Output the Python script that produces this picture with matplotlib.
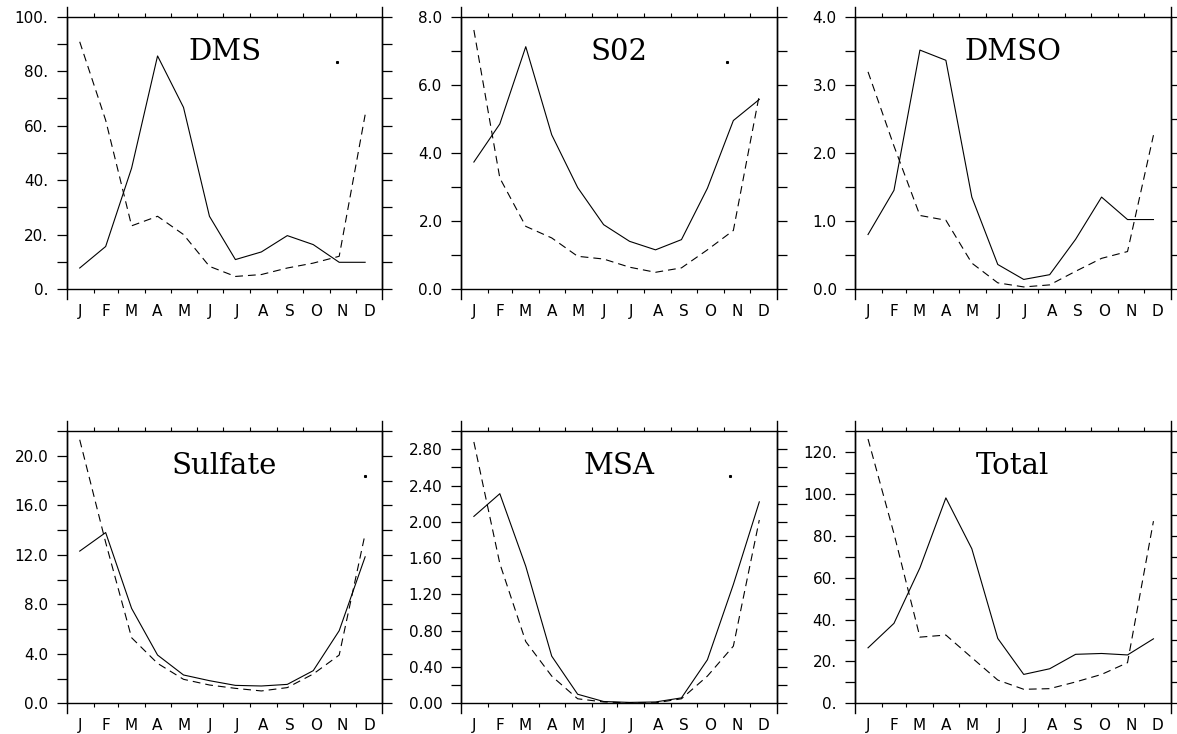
import numpy as np
import matplotlib.pyplot as plt
from matplotlib.ticker import FixedLocator, FormatStrFormatter

# Monatsdaten (Werte an Tag 15, 45, ..., 345)
monate = ["J", "F", "M", "A", "M", "J", "J", "A", "S", "O", "N", "D"]
monatsgrenzen = [0, 31, 59, 90, 120, 151, 181, 212, 243, 273, 304, 334, 365]

titel = ["DMS", "S02", "DMSO", "Sulfate", "MSA", "Total"]

dms_solid = [7.7, 15.6, 44.4, 85.6, 66.7, 26.7, 10.8, 13.6, 19.6, 16.3, 9.8, 9.8]
dms_dash = [90.8, 62.0, 23.2, 26.7, 20.0, 8.3, 4.6, 5.3, 7.7, 9.5, 12.0, 64.0]

so2_solid = [3.73, 4.85, 7.12, 4.53, 2.98, 1.89, 1.40, 1.15, 1.45, 2.96, 4.95, 5.57]
so2_dash = [7.61, 3.26, 1.84, 1.50, 0.96, 0.88, 0.64, 0.49, 0.62, 1.15, 1.72, 5.70]

dmso_solid = [0.80, 1.45, 3.51, 3.36, 1.35, 0.36, 0.14, 0.21, 0.73, 1.35, 1.02, 1.02]
dmso_dash = [3.19, 2.10, 1.08, 1.01, 0.38, 0.09, 0.03, 0.06, 0.26, 0.45, 0.55, 2.26]

sulfat_solid = [12.3, 13.8, 7.67, 3.9, 2.29, 1.83, 1.45, 1.40, 1.53, 2.64, 5.87, 11.84]
sulfat_dash = [21.3, 13.0, 5.30, 3.23, 1.94, 1.48, 1.21, 1.00, 1.27, 2.37, 3.90, 13.7]

msa_solid = [2.06, 2.31, 1.51, 0.52, 0.10, 0.02, 0.01, 0.015, 0.06, 0.48, 1.31, 2.22]
msa_dash = [2.88, 1.54, 0.68, 0.30, 0.05, 0.015, 0.005, 0.005, 0.05, 0.30, 0.63, 2.02]

total_solid = [26.5, 38.2, 64.7, 98.1, 73.8, 31.0, 13.8, 16.5, 23.4, 23.8, 23.1, 30.8]
total_dash = [126.2, 81.0, 31.6, 32.6, 21.8, 11.1, 6.7, 7.0, 10.2, 13.8, 19.4, 87.0]

# Achsen: (ymax, Beschriftungsschritt, Tickschritt, Format)
achsen = [
    (100, 20, 10, "%d."),
    (8.0, 2.0, 1.0, "%.1f"),
    (4.0, 1.0, 0.5, "%.1f"),
    (22, 4.0, 2.0, "%.1f"),
    (3.0, 0.4, 0.2, "%.2f"),
    (130, 20, 10, "%d."),
]

# kleine Restpunkte oben rechts (Tag, Wert)
restpunkte = [(313, 83.2), (308, 6.66), None, (345, 18.4), (311, 2.50), None]

solids = [dms_solid, so2_solid, dmso_solid, sulfat_solid, msa_solid, total_solid]
dashes = [dms_dash, so2_dash, dmso_dash, sulfat_dash, msa_dash, total_dash]

tage = 15 + 30 * np.arange(12)
mitten = [(monatsgrenzen[i] + monatsgrenzen[i + 1]) / 2 for i in range(12)]

fig, axes = plt.subplots(2, 3, figsize=(11.77, 7.34), dpi=100)
fig.subplots_adjust(left=0.0567, right=0.9947, top=0.9772, bottom=0.0418,
                    wspace=0.2485, hspace=0.522)

ext = 10 / 272.6  # Achsenverlaengerung ueber die Ecken

for ax, name, ys, yd, (ymax, major, minor, fmt), rest in zip(
        axes.flat, titel, solids, dashes, achsen, restpunkte):
    ax.plot(tage, ys, color="black", lw=0.8)
    ax.plot(tage, yd, color="black", lw=0.8, linestyle=(0, (7, 4.5)))
    if rest is not None:
        ax.plot([rest[0]], [rest[1]], "s", color="black", markersize=1.2)

    ax.set_xlim(0, 365)
    ax.set_ylim(0, ymax)

    # x: Beschriftung in Monatsmitte, Ticks an Monatsgrenzen
    ax.set_xticks(mitten)
    ax.set_xticklabels(monate)
    ax.xaxis.set_minor_locator(FixedLocator(monatsgrenzen[1:-1]))
    ax.tick_params(axis="x", which="major", length=0, pad=10.5,
                   labelsize=11, top=False)
    ax.tick_params(axis="x", which="minor", length=3.2, width=0.8,
                   direction="out", top=True, bottom=True)

    # y: Ticks links und rechts nach aussen
    ax.yaxis.set_major_locator(FixedLocator(np.round(np.arange(0, ymax + major / 2, major), 6)))
    ax.yaxis.set_minor_locator(FixedLocator(np.round(np.arange(0, ymax + minor / 2, minor), 6)))
    ax.yaxis.set_major_formatter(FormatStrFormatter(fmt))
    ax.tick_params(axis="y", which="both", length=7.2, width=0.9,
                   direction="out", left=True, right=True, labelsize=11, pad=6)
    ax.set_ylim(0, ymax)

    for s in ax.spines.values():
        s.set_linewidth(1.0)
    for xa in (0, 1):
        ax.plot([xa, xa], [-ext, 1 + ext], transform=ax.transAxes,
                color="black", lw=1.0, clip_on=False)

    ax.text(0.5, 0.87, name, transform=ax.transAxes, ha="center", va="center",
            fontsize=21, family="DejaVu Serif")

plt.savefig("out.png", dpi=100)
plt.close()
